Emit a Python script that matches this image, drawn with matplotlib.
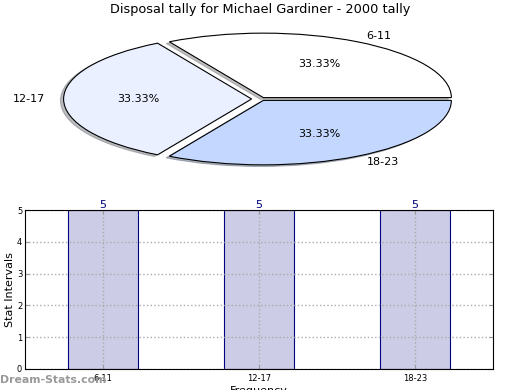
import matplotlib
matplotlib.use('Agg')
import matplotlib.pyplot as plt

# data
groups = ['6-11', '12-17', '18-23']
tally = [5, 5, 5]
pie_colors = ['#ffffff', '#eaf0ff', '#c4d8ff']
explode = [0.025, 0.05, 0.025]

fig = plt.figure(figsize=(5.2, 3.9), dpi=100)

# pie on top, stretched (no equal aspect)
axp = fig.add_axes([26 / 520, 208.5 / 390, 470 / 520, 165 / 390])
wedges, texts, autotexts = axp.pie(tally, labels=groups, colors=pie_colors,
                                   explode=explode, autopct='%.2f%%',
                                   startangle=0,
                                   shadow={'ox': -0.012, 'oy': -0.018, 'shade': 0.5},
                                   wedgeprops=dict(edgecolor='black', linewidth=0.8),
                                   textprops=dict(fontsize=8))
axp.set_aspect('auto')
axp.set_xlim(-1.25, 1.25)
axp.set_ylim(-1.28, 1.28)
axp.axis('off')
fig.text(0.5, 1 - 10 / 390, 'Disposal tally for Michael Gardiner - 2000 tally',
         ha='center', va='center', fontsize=9.3)

# bar chart below
axb = fig.add_axes([25 / 520, 21 / 390, 468 / 520, 159 / 390])
xs = list(range(len(groups)))
bars = axb.bar(xs, tally, width=0.45, color='#ccccE6', edgecolor='#000080',
               linewidth=0.8, zorder=2)
for x, v in zip(xs, tally):
    axb.text(x, v, str(v), ha='center', va='bottom', color='#000080', fontsize=8)
axb.set_xlim(-0.5, 2.5)
axb.set_ylim(0, 5)
axb.set_xticks(xs)
axb.set_xticklabels(groups, fontsize=6)
axb.set_yticks(range(0, 6))
axb.tick_params(axis='y', labelsize=6, direction='in', right=True, length=3, color='#999999', pad=2)
axb.tick_params(axis='x', direction='in', top=True, length=3, color='#999999')
axb.grid(True, linestyle=':', color='#aaaaaa', linewidth=1, zorder=3)
axb.set_axisbelow(False)
for sp in axb.spines.values():
    sp.set_zorder(4)
axb.set_ylabel('Stat Intervals', fontsize=8)
axb.yaxis.set_label_coords(-10 / 468, 0.5)
axb.set_xlabel('Frequency', fontsize=8, labelpad=2)

fig.text(0, 10 / 390, 'Dream-Stats.com', color='#999999', fontsize=7.8,
         fontweight='bold', ha='left', va='center')

fig.savefig('out.png', dpi=100)
